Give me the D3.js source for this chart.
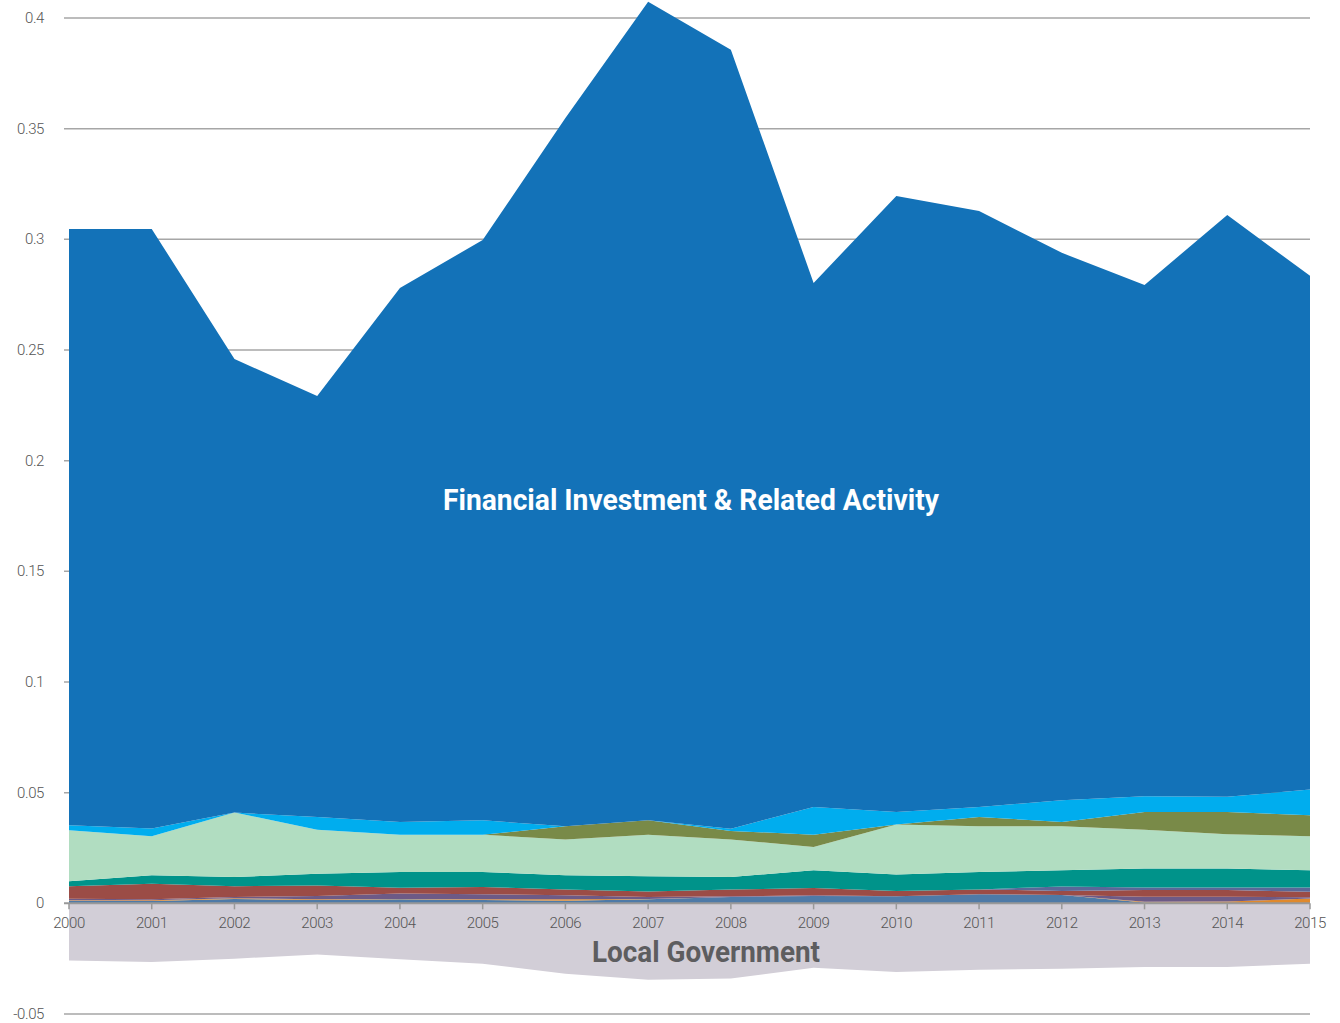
<!DOCTYPE html>
<html>
<head>
<meta charset="utf-8">
<script src="https://cdn.jsdelivr.net/npm/d3@7"></script>
<style>
  body { margin: 0; background: #fff; }
  .tick-label { font-family: Roboto, "Liberation Sans", sans-serif; font-size: 15px; font-weight: 300; letter-spacing: -0.4px; fill: #555; }
</style>
</head>
<body>
<div id="area_chart"></div>
<script>
const margin = {top: 18, right: 30, bottom: 9, left: 69},
    width = 1340 - margin.left - margin.right,
    height = 1023 - margin.top - margin.bottom;

// data (share values)
const years = [2000, 2001, 2002, 2003, 2004, 2005, 2006, 2007, 2008, 2009, 2010, 2011, 2012, 2013, 2014, 2015];
const steelBlue = [0.0012, 0.0011, 0.0020, 0.0015, 0.0019, 0.0015, 0.0012, 0.0018, 0.0029, 0.0033, 0.0032, 0.0041, 0.0038, 0.0004, 0.0002, 0.0002];
const orange    = [0.0002, 0.0003, 0.0003, 0.0004, 0.0001, 0.0003, 0.0006, 0.0002, 0, 0, 0, 0, 0, 0.0003, 0.0006, 0.0020];
const purple    = [0.0007, 0.0004, 0.0006, 0.0014, 0.0024, 0.0023, 0.0018, 0.0009, 0.0003, 0.0003, 0, 0, 0, 0.0023, 0.0022, 0.0005];
const red       = [0.0056, 0.0071, 0.0048, 0.0048, 0.0026, 0.0033, 0.0026, 0.0025, 0.0030, 0.0033, 0.0024, 0.0022, 0.0018, 0.0030, 0.0030, 0.0025];
const slate     = [0, 0, 0, 0, 0, 0, 0, 0, 0, 0, 0, 0, 0.0020, 0.0012, 0.0012, 0.0020];
const teal      = [0.00225, 0.0038, 0.0042, 0.0053, 0.0072, 0.0068, 0.0065, 0.0068, 0.0057, 0.0080, 0.0074, 0.0079, 0.0073, 0.0085, 0.0085, 0.0077];
const lightGreen = [0.02305, 0.0176, 0.0291, 0.0199, 0.0168, 0.0168, 0.0161, 0.0188, 0.0169, 0.0106, 0.0226, 0.0206, 0.0199, 0.0176, 0.0155, 0.0154];
const olive     = [0, 0, 0, 0, 0, 0, 0.0060, 0.0065, 0.0039, 0.0055, 0, 0.0042, 0.0020, 0.0080, 0.0101, 0.0095];
const lightBlue = [0.0023, 0.0035, 0, 0.0057, 0.0058, 0.0065, 0, 0, 0.0010, 0.0125, 0.0057, 0.0045, 0.0098, 0.0071, 0.0068, 0.0116];
const financial = [0.2694, 0.2709, 0.2049, 0.1902, 0.2412, 0.2622, 0.3200, 0.3698, 0.3519, 0.2368, 0.2783, 0.2693, 0.2473, 0.2310, 0.2629, 0.2321];
const localGov  = [-0.0258, -0.0265, -0.0250, -0.0231, -0.0253, -0.0273, -0.0318, -0.0345, -0.0340, -0.0291, -0.0310, -0.0300, -0.0295, -0.0288, -0.0288, -0.0273];

const yTicks = [-0.05, 0, 0.05, 0.1, 0.15, 0.2, 0.25, 0.3, 0.35, 0.4];

// positive layers, bottom to top
const series = [
  {key: "steel", values: steelBlue, color: "#4e7aa7"},
  {key: "orange", values: orange, color: "#e0892c"},
  {key: "purple", values: purple, color: "#6d5a86"},
  {key: "red", values: red, color: "#9b4c46"},
  {key: "slate", values: slate, color: "#5a6898"},
  {key: "teal", values: teal, color: "#00938a"},
  {key: "lightgreen", values: lightGreen, color: "#b1ddc1"},
  {key: "olive", values: olive, color: "#798a48"},
  {key: "lightblue", values: lightBlue, color: "#00adee"},
  {key: "financial", values: financial, color: "#1372b8"}
];

// table for d3.stack
const table = years.map(function(y, i) {
  const row = {year: y, localgov: localGov[i]};
  series.forEach(function(s) { row[s.key] = s.values[i]; });
  return row;
});

const svg = d3.select("#area_chart")
  .append("svg")
  .attr("width", width + margin.left + margin.right)
  .attr("height", height + margin.top + margin.bottom)
  .append("g")
  .attr("transform", `translate(${margin.left},${margin.top})`);

const x = d3.scaleLinear()
  .domain([2000, 2015])
  .range([0, width]);

const y = d3.scaleLinear()
  .domain([-0.05, 0.4])
  .range([height, 0]);

// gridlines behind the areas
svg.append("g")
  .selectAll("line")
  .data(yTicks.filter(function(d) { return d !== 0; }))
  .join("line")
    .attr("x1", -5)
    .attr("x2", width)
    .attr("y1", function(d) { return y(d); })
    .attr("y2", function(d) { return y(d); })
    .attr("stroke", "#a6a6a6")
    .attr("stroke-width", 1.5);

const stacked = d3.stack()
  .keys(series.map(function(s) { return s.key; }))(table);

// local government is the only negative layer, stacked down from zero
const stackedNeg = d3.stack()
  .keys(["localgov"])(table);

const area = d3.area()
  .x(function(d) { return x(d.data.year); })
  .y0(function(d) { return y(d[0]); })
  .y1(function(d) { return y(d[1]); });

const colorOf = {localgov: "#d2ced7"};
series.forEach(function(s) { colorOf[s.key] = s.color; });

svg.selectAll("areas")
  .data(stackedNeg.concat(stacked))
  .join("path")
    .attr("fill", function(d) { return colorOf[d.key]; })
    .attr("d", area);

// zero line and year ticks
svg.append("line")
  .attr("x1", -5)
  .attr("x2", width)
  .attr("y1", y(0))
  .attr("y2", y(0))
  .attr("stroke", "#999")
  .attr("stroke-width", 2);

svg.append("g")
  .selectAll("line")
  .data(years)
  .join("line")
    .attr("x1", function(d) { return x(d); })
    .attr("x2", function(d) { return x(d); })
    .attr("y1", y(0))
    .attr("y2", y(0) + 6)
    .attr("stroke", "#999")
    .attr("stroke-width", 1.5);

svg.append("g")
  .selectAll("text")
  .data(years)
  .join("text")
    .attr("class", "tick-label")
    .attr("x", function(d) { return x(d); })
    .attr("y", y(0) + 25)
    .attr("text-anchor", "middle")
    .text(function(d) { return d; });

svg.append("g")
  .selectAll("text")
  .data(yTicks)
  .join("text")
    .attr("class", "tick-label")
    .attr("x", -25)
    .attr("y", function(d) { return y(d) + 5; })
    .attr("text-anchor", "end")
    .text(function(d) { return String(+d.toFixed(2)); });

// series labels
svg.append("text")
  .attr("x", 691 - margin.left)
  .attr("y", 510 - margin.top)
  .attr("text-anchor", "middle")
  .attr("font-family", "Roboto, sans-serif")
  .attr("font-weight", "bold")
  .attr("font-size", 30)
  .attr("fill", "#fff")
  .attr("textLength", 496)
  .attr("lengthAdjust", "spacingAndGlyphs")
  .text("Financial Investment & Related Activity");

svg.append("text")
  .attr("x", 706 - margin.left)
  .attr("y", 962 - margin.top)
  .attr("text-anchor", "middle")
  .attr("font-family", "Roboto, sans-serif")
  .attr("font-weight", "bold")
  .attr("font-size", 30)
  .attr("fill", "#5d5d5f")
  .attr("textLength", 228)
  .attr("lengthAdjust", "spacingAndGlyphs")
  .text("Local Government");
</script>
</body>
</html>
